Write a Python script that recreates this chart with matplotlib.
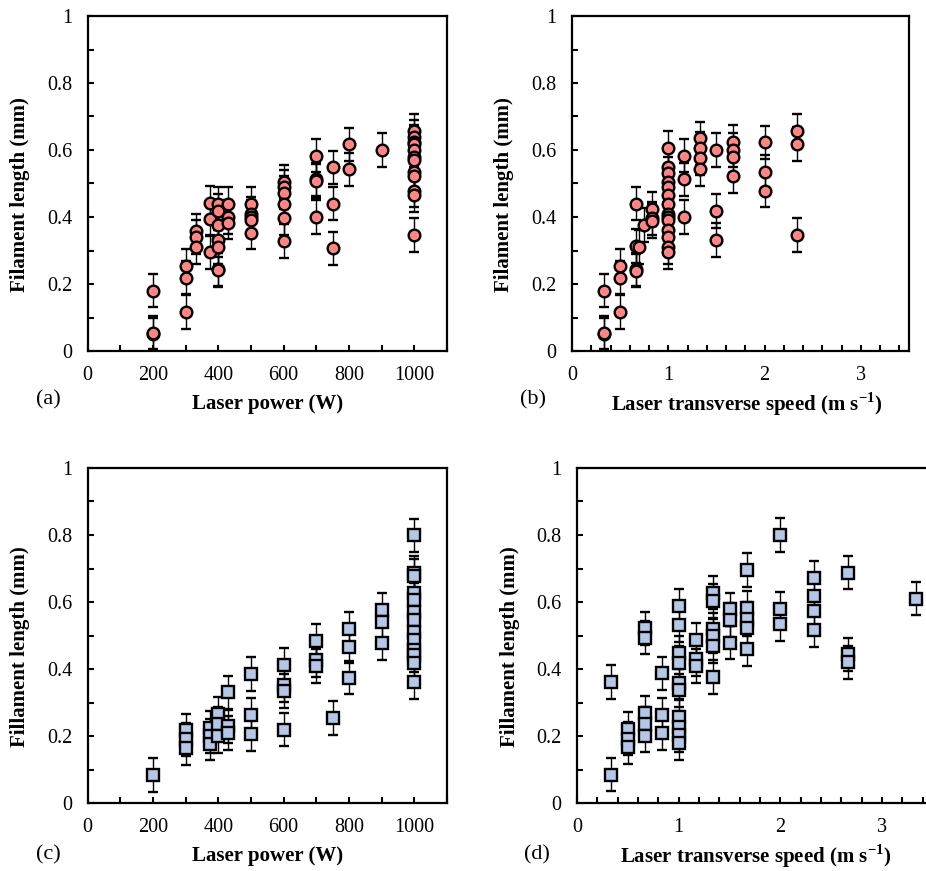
import matplotlib
matplotlib.use("Agg")
import matplotlib.pyplot as plt
from matplotlib.ticker import MultipleLocator, FuncFormatter

# ---------------- data ----------------
power_a = [200, 200, 200,
           300, 300, 300,
           333, 333, 333,
           375, 375, 375,
           400, 400, 400, 400, 400, 400, 400,
           430, 430, 430,
           500, 500, 500, 500, 500,
           600, 600, 600, 600, 600, 600,
           700, 700, 700, 700,
           750, 750, 750,
           800, 800,
           900,
           1000, 1000, 1000, 1000, 1000, 1000, 1000, 1000, 1000, 1000, 1000, 1000]
length_a = [0.18, 0.05, 0.055,
            0.255, 0.219, 0.116,
            0.358, 0.341, 0.31,
            0.443, 0.394, 0.295,
            0.44, 0.418, 0.376, 0.331, 0.31, 0.244, 0.242,
            0.44, 0.40, 0.383,
            0.44, 0.41, 0.40, 0.39, 0.353,
            0.505, 0.49, 0.473, 0.438, 0.396, 0.329,
            0.583, 0.512, 0.508, 0.40,
            0.548, 0.44, 0.306,
            0.617, 0.542,
            0.60,
            0.657, 0.64, 0.625, 0.618, 0.60, 0.58, 0.57, 0.535, 0.522, 0.479, 0.466, 0.346]

speed_b = [0.333, 0.333, 0.333,
           0.5, 0.5, 0.5,
           0.667, 0.667, 0.667, 0.667,
           0.70,
           0.75,
           0.833, 0.833, 0.833,
           1.0, 1.0, 1.0, 1.0, 1.0, 1.0, 1.0, 1.0, 1.0, 1.0, 1.0, 1.0, 1.0, 1.0,
           1.167, 1.167, 1.167,
           1.333, 1.333, 1.333, 1.333,
           1.5, 1.5, 1.5,
           1.667, 1.667, 1.667, 1.667,
           2.0, 2.0, 2.0,
           2.333, 2.333, 2.333]
length_b = [0.18, 0.05, 0.055,
            0.255, 0.219, 0.116,
            0.44, 0.314, 0.244, 0.24,
            0.31,
            0.376,
            0.424, 0.396, 0.388,
            0.607, 0.55, 0.53, 0.505, 0.49, 0.466, 0.44, 0.41, 0.40, 0.39, 0.361, 0.341, 0.31, 0.295,
            0.583, 0.512, 0.40,
            0.635, 0.605, 0.575, 0.543,
            0.60, 0.418, 0.331,
            0.625, 0.60, 0.58, 0.523,
            0.623, 0.535, 0.479,
            0.657, 0.618, 0.346]

power_c = [200,
           300, 300, 300,
           375, 375, 375,
           400, 400, 400,
           430, 430, 430,
           500, 500, 500,
           600, 600, 600, 600,
           700, 700, 700,
           750,
           800, 800, 800,
           900, 900, 900,
           1000, 1000, 1000, 1000, 1000, 1000, 1000, 1000, 1000, 1000, 1000, 1000, 1000]
length_c = [0.083,
            0.217, 0.19, 0.163,
            0.224, 0.2, 0.177,
            0.267, 0.237, 0.2,
            0.33, 0.229, 0.209,
            0.385, 0.264, 0.206,
            0.412, 0.352, 0.335, 0.219,
            0.485, 0.427, 0.409,
            0.254,
            0.52, 0.467, 0.374,
            0.576, 0.541, 0.477,
            0.799, 0.688, 0.678, 0.626, 0.606, 0.571, 0.546, 0.511, 0.487, 0.457, 0.442, 0.417, 0.36]

speed_d = [0.333, 0.333,
           0.5, 0.5, 0.5,
           0.667, 0.667, 0.667, 0.667, 0.667,
           0.833, 0.833, 0.833,
           1.0, 1.0, 1.0, 1.0, 1.0, 1.0, 1.0, 1.0, 1.0, 1.0,
           1.167, 1.167, 1.167,
           1.333, 1.333, 1.333, 1.333, 1.333, 1.333,
           1.5, 1.5, 1.5,
           1.667, 1.667, 1.667, 1.667, 1.667,
           2.0, 2.0, 2.0,
           2.333, 2.333, 2.333, 2.333,
           2.667, 2.667, 2.667,
           3.333]
length_d = [0.361, 0.085,
            0.221, 0.192, 0.166,
            0.521, 0.494, 0.269, 0.237, 0.201,
            0.387, 0.264, 0.208,
            0.588, 0.531, 0.449, 0.419, 0.359, 0.336, 0.256, 0.226, 0.202, 0.179,
            0.487, 0.429, 0.409,
            0.628, 0.603, 0.518, 0.499, 0.469, 0.376,
            0.578, 0.546, 0.479,
            0.695, 0.583, 0.55, 0.523, 0.459,
            0.80, 0.58, 0.535,
            0.671, 0.618, 0.573, 0.515,
            0.688, 0.444, 0.42,
            0.61]

err = 0.05

# ---------------- style ----------------
plt.rcParams['font.family'] = ['Liberation Serif', 'DejaVu Serif']
plt.rcParams['mathtext.fontset'] = 'custom'
plt.rcParams['mathtext.rm'] = 'Liberation Serif'
plt.rcParams['mathtext.bf'] = 'Liberation Serif:bold'

W, H = 926, 871
fig = plt.figure(figsize=(W / 100, H / 100), dpi=100)


def add_ax(left, right, top, bottom):
    return fig.add_axes([left / W, 1 - bottom / H, (right - left) / W, (bottom - top) / H])


TICK_FS = 14.5
LABEL_FS = 15
PANEL_FS = 16

fmt = FuncFormatter(lambda v, p: f"{v:g}")


def style(ax, xmax, xmaj, xmin_):
    ax.set_xlim(0, xmax)
    ax.set_ylim(0, 1)
    ax.xaxis.set_major_locator(MultipleLocator(xmaj))
    ax.xaxis.set_minor_locator(MultipleLocator(xmin_))
    ax.yaxis.set_major_locator(MultipleLocator(0.2))
    ax.yaxis.set_minor_locator(MultipleLocator(0.1))
    ax.xaxis.set_major_formatter(fmt)
    ax.yaxis.set_major_formatter(fmt)
    ax.tick_params(which='both', direction='in', width=1.5, length=4.5,
                   top=False, right=False, labelsize=TICK_FS)
    ax.tick_params(axis='y', pad=11)
    ax.tick_params(axis='x', pad=11)
    for s in ax.spines.values():
        s.set_linewidth(1.6)


def draw(ax, x, y, marker, fc, ms):
    ax.errorbar(x, y, yerr=err, fmt=marker, ms=ms, mfc=fc, mec='black', mew=1.7,
                ecolor='black', elinewidth=1.0, capsize=3.8, capthick=1.0, zorder=3)


# panel (a)
ax_a = add_ax(87.5, 447, 16, 351)
style(ax_a, 1100, 200, 100)
draw(ax_a, power_a, length_a, 'o', '#FF8585', 8.4)
ax_a.set_xlabel('Laser power (W)', fontsize=LABEL_FS, fontweight='bold')
ax_a.set_ylabel('Filament length (mm)', fontsize=LABEL_FS, fontweight='bold')

# panel (b)
ax_b = add_ax(572, 909, 16, 351)
style(ax_b, 3.5, 1, 0.2)
draw(ax_b, speed_b, length_b, 'o', '#FF8585', 8.4)
ax_b.set_xlabel(r'Laser transverse speed (m s$^{\mathbf{-1}}$)', fontsize=LABEL_FS, fontweight='bold')
ax_b.set_ylabel('Filament length (mm)', fontsize=LABEL_FS, fontweight='bold')

# panel (c)
ax_c = add_ax(87.5, 447, 468, 803)
style(ax_c, 1100, 200, 100)
draw(ax_c, power_c, length_c, 's', '#B4C7E7', 8.2)
ax_c.set_xlabel('Laser power (W)', fontsize=LABEL_FS, fontweight='bold')
ax_c.set_ylabel('Fillament length (mm)', fontsize=LABEL_FS, fontweight='bold')

# panel (d)
ax_d = add_ax(577, 933, 468, 803)
style(ax_d, 3.5, 1, 0.2)
draw(ax_d, speed_d, length_d, 's', '#B4C7E7', 8.2)
ax_d.set_xlabel(r'Laser transverse speed (m s$^{\mathbf{-1}}$)', fontsize=LABEL_FS, fontweight='bold')
ax_d.set_ylabel('Fillament length (mm)', fontsize=LABEL_FS, fontweight='bold')

# label positions (pixel-measured)
for ax, left, right, top, bottom, xlab_cx in [
        (ax_a, 87.5, 447, 16, 351, 267.5),
        (ax_b, 572, 909, 16, 351, 747),
        (ax_c, 87.5, 447, 468, 803, 267.5),
        (ax_d, 577, 933, 468, 803, 756)]:
    w = right - left
    h = bottom - top
    ax.xaxis.set_label_coords((xlab_cx - left) / w, -(53 / h))
    ax.xaxis.label.set_va('center')
    ylab_x = 20 if left < 300 else 20 + (left - 87.5)
    ax.yaxis.set_label_coords((ylab_x - left) / w, (bottom - (top + 179)) / h)
    ax.yaxis.label.set_va('center')

# panel letters
for txt, px, py in [('(a)', 48, 400), ('(b)', 533, 400), ('(c)', 48, 855), ('(d)', 537, 855)]:
    fig.text(px / W, 1 - py / H, txt, fontsize=PANEL_FS, ha='center', va='center')

fig.savefig('out.png', dpi=100)
